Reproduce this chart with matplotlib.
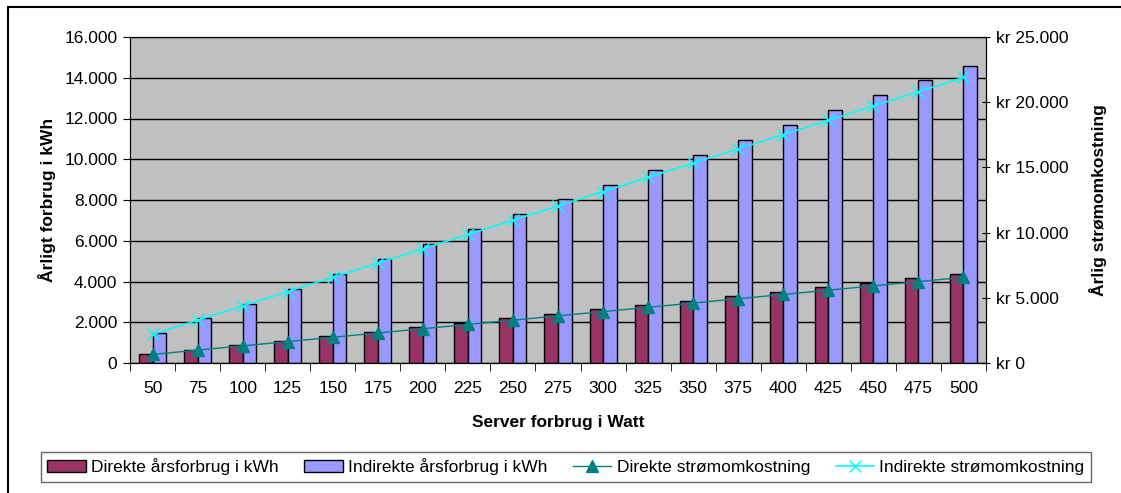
import numpy as np
import matplotlib.pyplot as plt
from matplotlib.ticker import FuncFormatter, MultipleLocator
from matplotlib.patches import Rectangle

watt = [50, 75, 100, 125, 150, 175, 200, 225, 250, 275,
        300, 325, 350, 375, 400, 425, 450, 475, 500]
direkte_kwh = [438, 657, 876, 1095, 1314, 1533, 1752, 1971, 2190, 2409,
               2628, 2847, 3066, 3285, 3504, 3723, 3942, 4161, 4380]
indirekte_kwh = [1460, 2190, 2920, 3650, 4380, 5110, 5840, 6570, 7300, 8030,
                 8760, 9490, 10220, 10950, 11680, 12410, 13140, 13870, 14600]
direkte_kr = [657, 986, 1314, 1643, 1971, 2300, 2628, 2957, 3285, 3614,
              3942, 4271, 4599, 4928, 5256, 5585, 5913, 6242, 6570]
indirekte_kr = [2190, 3285, 4380, 5475, 6570, 7665, 8760, 9855, 10950, 12045,
                13140, 14235, 15330, 16425, 17520, 18615, 19710, 20805, 21900]

plt.rcParams['font.family'] = ['Liberation Sans', 'DejaVu Sans']
plt.rcParams['font.size'] = 12.5


def dots(v, pos):
    # Danish thousands separator
    return '{:,.0f}'.format(v).replace(',', '.')


fig = plt.figure(figsize=(11.21, 4.93), dpi=100)
fig.patches.append(Rectangle((8 / 1121, -0.1), 1.2, 1 - 7 / 493 + 0.1,
                             transform=fig.transFigure, fill=False,
                             edgecolor='black', linewidth=1.5))

ax = fig.add_axes([130 / 1121, 1 - 363 / 493, 856 / 1121, 326 / 493])
ax.set_facecolor('#C0C0C0')
x = np.arange(len(watt))
w = 0.3
ax.bar(x - w / 2, direkte_kwh, w, color='#993366', edgecolor='black',
       linewidth=1, label='Direkte årsforbrug i kWh', zorder=2)
ax.bar(x + w / 2, indirekte_kwh, w, color='#9999FF', edgecolor='black',
       linewidth=1, label='Indirekte årsforbrug i kWh', zorder=2)
ax.set_xlim(-0.5, len(watt) - 0.5)
ax.set_ylim(0, 16000)
ax.yaxis.set_major_locator(MultipleLocator(2000))
ax.yaxis.set_major_formatter(FuncFormatter(dots))
ax.grid(axis='y', color='black', linewidth=1, zorder=1)
ax.set_axisbelow(True)
ax.set_xticks(x)
ax.set_xticklabels([str(v) for v in watt])
ax.tick_params(axis='x', length=0, pad=13)
ax.set_xticks(np.arange(len(watt) + 1) - 0.5, minor=True)
ax.tick_params(axis='x', which='minor', length=6, direction='out')
ax.tick_params(axis='y', length=5, direction='out', pad=4)
for s in ['left', 'bottom']:
    ax.spines[s].set_color('black')
ax.spines['top'].set_color('#808080')
ax.spines['right'].set_color('black')
ax.set_xlabel('Server forbrug i Watt', fontweight='bold', labelpad=14)
ax.set_ylabel('Årligt forbrug i kWh', fontweight='bold', labelpad=6)

ax2 = ax.twinx()
ax2.plot(x, direkte_kr, color='#008080', marker='^', markersize=8,
         linewidth=1, label='Direkte strømomkostning', zorder=3)
ax2.plot(x, indirekte_kr, color='#00FFFF', marker='x', markersize=8,
         linewidth=1.2, label='Indirekte strømomkostning', zorder=3)
ax2.set_ylim(0, 25000)
ax2.yaxis.set_major_locator(MultipleLocator(5000))
ax2.yaxis.set_major_formatter(FuncFormatter(lambda v, p: 'kr ' + dots(v, p)))
ax2.tick_params(axis='y', length=6, direction='inout', pad=4)
ax2.set_ylabel('Årlig strømomkostning', fontweight='bold', labelpad=15)

h1, l1 = ax.get_legend_handles_labels()
h2, l2 = ax2.get_legend_handles_labels()
leg = fig.legend(h1 + h2, l1 + l2, loc='center', ncol=4,
                 bbox_to_anchor=(566 / 1121, 1 - 467 / 493),
                 frameon=True, fancybox=False, edgecolor='#404040',
                 handlelength=2.2, handletextpad=0.3, columnspacing=1.5,
                 borderpad=0.35, borderaxespad=0, prop={'size': 12.5})
leg.get_frame().set_linewidth(1)

fig.savefig('out.png', dpi=100)
